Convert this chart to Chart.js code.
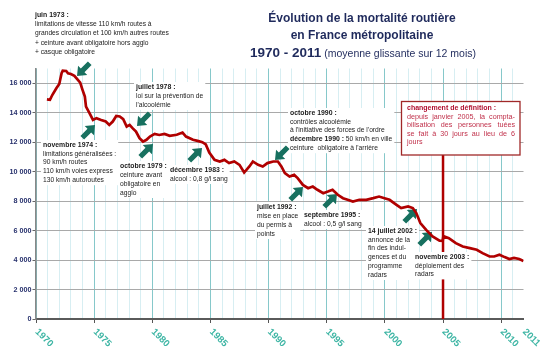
<!DOCTYPE html>
<html lang="fr">
<head>
<meta charset="utf-8">
<title>Évolution de la mortalité routière</title>
<script src="https://cdn.jsdelivr.net/npm/chart.js@4.4.1/dist/chart.umd.min.js"></script>
<style>
  html, body { margin: 0; padding: 0; background: #fff; }
  #wrap { width: 544px; height: 361px; }
</style>
</head>
<body>
<div id="wrap"><canvas id="mortaliteChart" width="544" height="361"></canvas></div>
<script>
// Données (tués, moyenne glissante sur 12 mois)
const annees = [1970.94, 1971.2, 1971.4, 1971.75, 1972.0, 1972.2, 1972.3, 1972.6, 1972.75, 1973.0,
  1973.3, 1973.6, 1973.8, 1974.0, 1974.2, 1974.3, 1974.6, 1974.9, 1975.2, 1975.6,
  1976.0, 1976.3, 1976.6, 1976.9, 1977.2, 1977.5, 1977.8, 1978.05, 1978.3, 1978.6,
  1978.9, 1979.2, 1979.5, 1979.8, 1980.2, 1980.6, 1981.05, 1981.5, 1982.1, 1982.6,
  1982.9, 1983.5, 1983.9, 1984.3, 1984.6, 1984.9, 1985.35, 1985.8, 1986.2, 1986.6,
  1987.05, 1987.5, 1987.9, 1988.35, 1988.65, 1989.1, 1989.5, 1989.9, 1990.4, 1990.8,
  1991.1, 1991.4, 1991.8, 1992.2, 1992.5, 1992.95, 1993.4, 1993.8, 1994.2, 1994.7,
  1995.1, 1995.5, 1995.95, 1996.4, 1996.8, 1997.25, 1997.8, 1998.4, 1999.0, 1999.5,
  1999.97, 2000.4, 2001.0, 2001.4, 2002.0, 2002.4, 2002.7, 2003.05, 2003.55, 2004.1,
  2004.7, 2004.97, 2005.03, 2005.5, 2006.1, 2006.7, 2007.3, 2007.9, 2008.4, 2009.0,
  2009.4, 2009.85, 2010.3, 2010.7, 2011.1, 2011.55, 2011.92];
const tues = [14900, 14870, 15200, 15660, 15950, 16680, 16850, 16830, 16680, 16630,
  16500, 16220, 16040, 15550, 15090, 14410, 13970, 13510, 13630, 13510,
  13400, 13170, 13400, 13780, 13740, 13560, 13060, 13170, 12950, 12720,
  12270, 12040, 12160, 12380, 12560, 12490, 12560, 12430, 12500, 12650,
  12380, 12160, 12090, 12000, 11850, 11300, 10800, 10690, 10800, 10580,
  10690, 10460, 9940, 10350, 10690, 10460, 10350, 10580, 10690, 10690,
  10350, 9900, 9670, 9780, 9560, 9100, 8880, 8990, 8770, 8540,
  8650, 8770, 8430, 8200, 8090, 7970, 8090, 8090, 8200, 8310,
  8200, 8090, 7750, 7530, 7640, 7530, 7190, 6510, 6050, 5600,
  5320, 5300, 5620, 5490, 5150, 4920, 4810, 4700, 4470, 4240,
  4240, 4360, 4200, 4070, 4140, 4070, 3930];

// Axe des x : une ligne par année, étiquettes tous les 5 ans + fin de série
const anneesGrille = [1970, 1971, 1972, 1973, 1974, 1975, 1976, 1977, 1978, 1979,
  1980, 1981, 1982, 1983, 1984, 1985, 1986, 1987, 1988, 1989,
  1990, 1991, 1992, 1993, 1994, 1995, 1996, 1997, 1998, 1999,
  2000, 2001, 2002, 2003, 2004, 2005, 2006, 2007, 2008, 2009, 2010, 2011];
const etiquettesX = ['1970', '1975', '1980', '1985', '1990', '1995', '2000', '2005', '2010', '2011'];
const valeursEtiquettesX = [1970, 1975, 1980, 1985, 1990, 1995, 2000, 2005, 2010, 2011.92];
const ticksY = [0, 2000, 4000, 6000, 8000, 10000, 12000, 14000, 16000];
const changementDefinition = 2005;

const police = '"Liberation Sans", Arial, sans-serif';
const fontN = '6.7px ' + police;
const fontB = 'bold 6.9px ' + police;

// Encadrés de texte (position en pixels, ligne de base du 1er texte)
const notes = [
  { x: 35, y: 15, pas: 9.25, lignes: ['**juin 1973 :**', 'limitations de vitesse 110 km/h routes à',
    'grandes circulation et 100 km/h autres routes', '+ ceinture avant obligatoire hors agglo', '+ casque obligatoire'] },
  { x: 136, y: 87, pas: 9, lignes: ['**juillet 1978 :**', 'loi sur la prévention de', "l'alcoolémie"] },
  { x: 43, y: 145, pas: 8.8, lignes: ['**novembre 1974 :**', 'limitations généralisées :', '90 km/h routes',
    '110 km/h voies express', '130 km/h autoroutes'] },
  { x: 120, y: 166, pas: 9, lignes: ['**octobre 1979 :**', 'ceinture avant', 'obligatoire en', 'agglo'] },
  { x: 170, y: 170, pas: 9, lignes: ['**décembre 1983 :**', 'alcool : 0,8 g/l sang'] },
  { x: 290, y: 113, pas: 8.8, lignes: ['**octobre 1990 :**', 'contrôles alcoolémie', "à l'initiative des forces de l'ordre",
    '**décembre 1990 :** 50 km/h en ville', "ceinture  obligatoire à l'arrière"] },
  { x: 257, y: 207, pas: 9, lignes: ['**juillet 1992 :**', 'mise en place', 'du permis à', 'points'] },
  { x: 304, y: 215, pas: 9, lignes: ['**septembre 1995 :**', 'alcool : 0,5 g/l sang'] },
  { x: 368, y: 231, pas: 8.8, lignes: ['**14 juillet 2002 :**', 'annonce de la', 'fin des indul-', 'gences et du', 'programme', 'radars'] },
  { x: 415, y: 257, pas: 8.7, lignes: ['**novembre 2003 :**', 'déploiement des', 'radars'] }
];

// Flèches : pointe (x, y) et sens (-1 = vers le bas à gauche, 1 = vers le haut à droite)
const fleches = [
  [77, 76, -1], [137, 126, -1], [95, 125, 1], [153, 144, 1], [202, 148, 1],
  [275, 160, -1], [303, 187, 1], [337, 194, 1], [417, 209, 1], [432, 232, 1]
];

function dessineNote(ctx, note) {
  const segs = note.lignes.map(l => l.split('**').map((t, i) => ({ t, b: i % 2 === 1 })).filter(s => s.t));
  let largeur = 0;
  segs.forEach(ls => {
    let w = 0;
    ls.forEach(s => { ctx.font = s.b ? fontB : fontN; w += ctx.measureText(s.t).width; });
    largeur = Math.max(largeur, w);
  });
  ctx.fillStyle = '#fff';
  ctx.fillRect(note.x - 2, note.y - 5, largeur + 4, note.pas * (segs.length - 1) + 10);
  ctx.fillStyle = '#1b1b1b';
  ctx.textAlign = 'left';
  ctx.textBaseline = 'middle';
  segs.forEach((ls, i) => {
    let cx = note.x;
    ls.forEach(s => {
      ctx.font = s.b ? fontB : fontN;
      ctx.fillText(s.t, cx, note.y + i * note.pas);
      cx += ctx.measureText(s.t).width;
    });
  });
}

function dessineFleche(ctx, tx, ty, sens) {
  const ux = sens > 0 ? Math.SQRT1_2 : -Math.SQRT1_2;
  const uy = sens > 0 ? -Math.SQRT1_2 : Math.SQRT1_2;
  const px = -uy, py = ux;
  const L = 18, tete = 8, demiTete = 6.5, demiTige = 2.6;
  const bx = tx - ux * tete, by = ty - uy * tete;
  const qx = tx - ux * L, qy = ty - uy * L;
  ctx.beginPath();
  ctx.moveTo(tx, ty);
  ctx.lineTo(bx + px * demiTete, by + py * demiTete);
  ctx.lineTo(bx + px * demiTige, by + py * demiTige);
  ctx.lineTo(qx + px * demiTige, qy + py * demiTige);
  ctx.lineTo(qx - px * demiTige, qy - py * demiTige);
  ctx.lineTo(bx - px * demiTige, by - py * demiTige);
  ctx.lineTo(bx - px * demiTete, by - py * demiTete);
  ctx.closePath();
  ctx.fill();
}

function justifie(ctx, texte, x, y, largeur) {
  const mots = texte.split(/\s+/);
  const total = mots.reduce((s, m) => s + ctx.measureText(m).width, 0);
  const espace = (largeur - total) / (mots.length - 1);
  let cx = x;
  mots.forEach(m => { ctx.fillText(m, cx, y); cx += ctx.measureText(m).width + espace; });
}

const decor = {
  id: 'decor',
  beforeDatasetsDraw(chart) {
    const ctx = chart.ctx;
    const sx = chart.scales.x, sy = chart.scales.y;
    ctx.save();

    // Titre
    ctx.fillStyle = '#1f2a5c';
    ctx.textAlign = 'center';
    ctx.textBaseline = 'middle';
    ctx.font = 'bold 12px ' + police;
    ctx.fillText('Évolution de la mortalité routière', 362, 19);
    ctx.fillText('en France métropolitaine', 362, 35.5);
    ctx.font = 'bold 13.5px ' + police;
    const t1 = '1970 - 2011';
    const w1 = ctx.measureText(t1).width;
    ctx.font = '10.5px ' + police;
    const t2 = ' (moyenne glissante sur 12 mois)';
    const w2 = ctx.measureText(t2).width;
    const x0 = 363 - (w1 + w2) / 2;
    ctx.textAlign = 'left';
    ctx.font = 'bold 13.5px ' + police;
    ctx.fillText(t1, x0, 53);
    ctx.font = '10.5px ' + police;
    ctx.fillText(t2, x0 + w1, 54);

    // Étiquettes de l'axe x, inclinées
    ctx.fillStyle = '#3db5a4';
    ctx.font = 'bold 9.5px ' + police;
    ctx.textBaseline = 'top';
    valeursEtiquettesX.forEach((v, i) => {
      ctx.save();
      ctx.translate(sx.getPixelForValue(v) + 4, sy.bottom + 8);
      ctx.rotate(Math.PI / 4);
      ctx.fillText(etiquettesX[i], 0, 0);
      ctx.restore();
    });

    // Trait vertical : changement de définition
    const xr = sx.getPixelForValue(changementDefinition);
    ctx.strokeStyle = '#b00000';
    ctx.lineWidth = 2.5;
    ctx.beginPath();
    ctx.moveTo(xr, 155);
    ctx.lineTo(xr, sy.bottom);
    ctx.stroke();

    notes.forEach(n => dessineNote(ctx, n));

    // Encadré rouge
    ctx.fillStyle = '#fff';
    ctx.fillRect(401.5, 101.5, 118.5, 53.5);
    ctx.strokeStyle = '#a02828';
    ctx.lineWidth = 1.3;
    ctx.strokeRect(401.5, 101.5, 118.5, 53.5);
    ctx.textBaseline = 'middle';
    ctx.fillStyle = '#b01030';
    ctx.font = 'bold 7px ' + police;
    ctx.fillText('changement de définition :', 407, 108.5);
    ctx.fillStyle = '#c0304a';
    ctx.font = '7.2px ' + police;
    justifie(ctx, 'depuis janvier 2005, la compta-', 407, 117, 108);
    justifie(ctx, 'bilisation des personnes tuées', 407, 125.4, 108);
    justifie(ctx, 'se fait à 30 jours au lieu de 6', 407, 133.8, 108);
    ctx.fillText('jours', 407, 142.2);

    ctx.fillStyle = '#17705f';
    fleches.forEach(f => dessineFleche(ctx, f[0], f[1], f[2]));
    ctx.restore();
  }
};

const ctx = document.getElementById('mortaliteChart').getContext('2d');
const chart = new Chart(ctx, {
  type: 'line',
  data: {
    datasets: [{
      label: 'Tués',
      data: annees.map((a, i) => ({ x: a, y: tues[i] })),
      borderColor: '#b00000',
      borderWidth: 2.7,
      pointRadius: 0,
      tension: 0,
      fill: false
    }]
  },
  options: {
    responsive: false,
    animation: false,
    layout: { padding: { top: 68.5, right: 20.5, left: 0, bottom: 0 } },
    plugins: {
      legend: { display: false },
      tooltip: { enabled: false }
    },
    scales: {
      x: {
        type: 'linear',
        min: 1970,
        max: 2011.92,
        afterBuildTicks: s => { s.ticks = anneesGrille.map(v => ({ value: v })); },
        afterFit: s => { s.height = 42; },
        ticks: { display: false },
        grid: {
          color: c => (c.tick && c.tick.value % 5 === 0) ? '#86c8ca' : '#d7eef2',
          lineWidth: 1,
          tickLength: 4,
          tickColor: c => (c.tick && c.tick.value % 5 === 0) ? '#555' : 'rgba(0,0,0,0)'
        },
        border: { color: '#5a5a5a', width: 2 }
      },
      y: {
        min: 0,
        max: 17000,
        afterBuildTicks: s => { s.ticks = ticksY.map(v => ({ value: v })); },
        afterFit: s => { s.width = 36; },
        ticks: {
          padding: 1,
          color: '#26306c',
          font: { family: police, size: 7.2, weight: 'bold' },
          callback: v => v === 0 ? '0' : (v / 1000) + ' 000'
        },
        grid: { color: '#a9a9a9', lineWidth: 1, tickLength: 3.5, tickColor: '#666' },
        border: { color: '#888', width: 1.5 }
      }
    }
  },
  plugins: [decor]
});
</script>
</body>
</html>
